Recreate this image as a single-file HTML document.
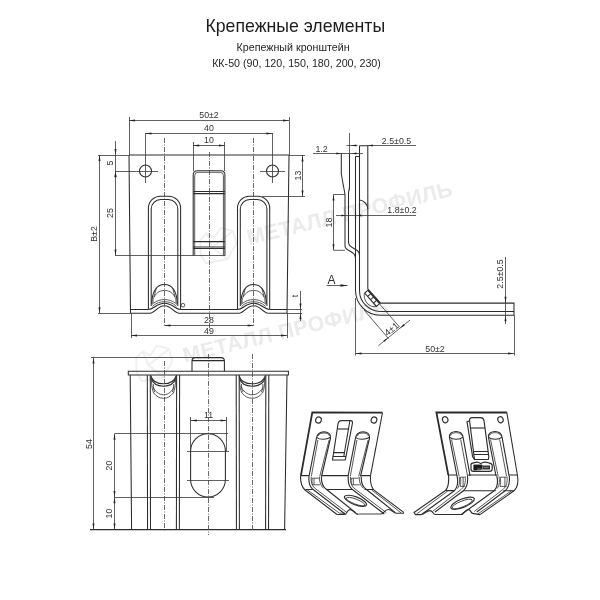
<!DOCTYPE html>
<html><head><meta charset="utf-8">
<style>
html,body{margin:0;padding:0;background:#fff;}
body{width:600px;height:600px;overflow:hidden;font-family:"Liberation Sans",sans-serif;}
svg{display:block;will-change:transform;opacity:0.999;}
text{font-family:"Liberation Sans",sans-serif;}
.o{fill:none;stroke:#2c2c2c;stroke-width:1.05;}
.t{fill:none;stroke:#3c3c3c;stroke-width:0.85;}
.d{fill:none;stroke:#383838;stroke-width:0.8;}
.c{fill:none;stroke:#444;stroke-width:0.8;stroke-dasharray:5 1.5 1 1.5;}
.a{fill:#222;stroke:none;}
.k{fill:none;stroke:#2e2e2e;stroke-width:1.15;stroke-linejoin:round;}
.dt{font-size:8.8px;fill:#333;text-anchor:middle;}
.wm{font-size:21.3px;font-weight:bold;fill:#ebebeb;letter-spacing:0.45px;}
</style></head><body>
<svg width="600" height="600" viewBox="0 0 600 600">
<rect width="600" height="600" fill="#fff"/>
<g transform="translate(248.7 244.8) rotate(-13.5)"><text class="wm" x="0" y="0">МЕТАЛЛ ПРОФИЛЬ</text><path d="M-49 -2 L-46 -16 L-38 -21 L-32 -15 L-23 -23 L-12 -17 L-12 -4 L-24 9 L-46 8 Z M-38 -21 L-36 -6 L-24 9 M-36 -6 L-12 -17" fill="none" stroke="#efefef" stroke-width="1.8" stroke-linejoin="round"/></g>
<g transform="translate(184.7 362.7) rotate(-13.5)"><text class="wm" x="0" y="0">МЕТАЛЛ ПРОФИЛЬ</text><path d="M-49 -2 L-46 -16 L-38 -21 L-32 -15 L-23 -23 L-12 -17 L-12 -4 L-24 9 L-46 8 Z M-38 -21 L-36 -6 L-24 9 M-36 -6 L-12 -17" fill="none" stroke="#efefef" stroke-width="1.8" stroke-linejoin="round"/></g>
<!--TITLE-->
<text x="295.3" y="32.3" font-size="17.7" fill="#1c1c1c" text-anchor="middle">Крепежные элементы</text>
<text x="293.1" y="50.8" font-size="10.7" fill="#262626" text-anchor="middle">Крепежный кронштейн</text>
<text x="296.5" y="66.6" font-size="10.7" fill="#262626" text-anchor="middle">КК-50 (90, 120, 150, 180, 200, 230)</text>
<path class="o" d="M129 155 H289 M129 155 L130.5 313.2 M289 155 L287 313.2"/>
<path class="o" d="M130.5 309.5 H148.5 M180.5 309.5 H237.6 M269.6 309.5 H287"/>
<path class="o" d="M130.5 313.2 H150.0 M179.0 313.2 H239.1 M268.1 313.2 H287"/>
<path class="o" d="M148.5 309.5 C153.5 309.5 156.5 303.3 164.5 303.3 C172.5 303.3 175.5 309.5 180.5 309.5"/>
<path class="o" d="M150.0 313.2 C155.0 313.2 157.5 305.8 164.5 305.8 C171.5 305.8 174.0 313.2 179.0 313.2"/>
<path class="t" d="M152.0 304.5 C156.5 300.5 160.5 299.6 164.5 299.6 C168.5 299.6 172.5 300.5 177.0 304.5"/>
<path class="t" d="M152.5 306.5 C156.5 302.6 160.5 301.8 164.5 301.8 C168.5 301.8 172.5 302.6 176.5 306.5"/>
<path class="o" d="M151.8 304 C151.8 292 156.5 284.5 164.5 284.5 C172.5 284.5 177.2 292 177.2 304"/>
<path class="t" d="M154.0 297 C157.5 291.5 160.5 290.5 164.5 290.5 C168.5 290.5 171.5 291.5 175.0 297"/>
<path class="t" d="M154.0 297 L156.3 288 M175.0 297 L172.7 288"/>
<path class="t" d="M153.0 303 C153.0 299 153.5 298 154.0 297 M176.0 303 C176.0 299 175.5 298 175.0 297"/>
<path class="o" d="M148.4 309.5 V208.2 A12 12 0 0 1 160.4 196.2 H168.6 A12 12 0 0 1 180.6 208.2 V309.5"/>
<path class="o" d="M151.2 306 V209 A9.5 9.5 0 0 1 160.7 199.5 H168.3 A9.5 9.5 0 0 1 177.8 209 V306"/>
<line class="c" x1="164.5" y1="138" x2="164.5" y2="326"/>
<path class="o" d="M237.6 309.5 C242.6 309.5 245.6 303.3 253.6 303.3 C261.6 303.3 264.6 309.5 269.6 309.5"/>
<path class="o" d="M239.1 313.2 C244.1 313.2 246.6 305.8 253.6 305.8 C260.6 305.8 263.1 313.2 268.1 313.2"/>
<path class="t" d="M241.1 304.5 C245.6 300.5 249.6 299.6 253.6 299.6 C257.6 299.6 261.6 300.5 266.1 304.5"/>
<path class="t" d="M241.6 306.5 C245.6 302.6 249.6 301.8 253.6 301.8 C257.6 301.8 261.6 302.6 265.6 306.5"/>
<path class="o" d="M240.9 304 C240.9 292 245.6 284.5 253.6 284.5 C261.6 284.5 266.3 292 266.3 304"/>
<path class="t" d="M243.1 297 C246.6 291.5 249.6 290.5 253.6 290.5 C257.6 290.5 260.6 291.5 264.1 297"/>
<path class="t" d="M243.1 297 L245.4 288 M264.1 297 L261.8 288"/>
<path class="t" d="M242.1 303 C242.1 299 242.6 298 243.1 297 M265.1 303 C265.1 299 264.6 298 264.1 297"/>
<path class="o" d="M237.5 309.5 V208.2 A12 12 0 0 1 249.5 196.2 H257.7 A12 12 0 0 1 269.7 208.2 V309.5"/>
<path class="o" d="M240.29999999999998 306 V209 A9.5 9.5 0 0 1 249.79999999999998 199.5 H257.4 A9.5 9.5 0 0 1 266.9 209 V306"/>
<line class="c" x1="253.5" y1="138" x2="253.5" y2="326"/>
<circle class="t" cx="183" cy="305.2" r="1.8"/>
<path class="o" d="M193.2 255.5 V175 Q193.2 170.8 197.4 170.8 H220.7 Q224.9 170.8 224.9 175 V255.5"/>
<path class="t" d="M194.7 255.5 V175.5 Q194.7 172.3 197.9 172.3 H220.2 Q223.4 172.3 223.4 175.5 V255.5"/>
<path class="o" d="M193.2 191.4 H224.9 M193.2 193.6 H224.9 M193.2 241.6 H224.9 M193.2 247 H224.9 M193.2 248.4 H224.9"/>
<line class="c" x1="209.5" y1="152" x2="209.5" y2="331"/>
<circle class="o" cx="145.5" cy="171" r="6"/>
<line class="d" x1="145.5" y1="133" x2="145.5" y2="183"/>
<circle class="o" cx="272.5" cy="171" r="6"/>
<line class="d" x1="272.5" y1="133" x2="272.5" y2="183"/>
<line class="d" x1="133" y1="171.5" x2="158" y2="171.5"/>
<line class="d" x1="260" y1="171.5" x2="285" y2="171.5"/>
<line class="d" x1="129.5" y1="117" x2="129.5" y2="155"/>
<line class="d" x1="289.5" y1="117" x2="289.5" y2="155"/>
<line class="d" x1="129" y1="120.5" x2="289" y2="120.5"/>
<polygon class="a" points="129.00,120.50 135.00,119.50 135.00,121.50"/>
<polygon class="a" points="289.00,120.50 283.00,121.50 283.00,119.50"/>
<text class="dt" x="209" y="118">50±2</text>
<line class="d" x1="145.5" y1="133.5" x2="272.5" y2="133.5"/>
<polygon class="a" points="145.50,133.50 151.50,132.50 151.50,134.50"/>
<polygon class="a" points="272.50,133.50 266.50,134.50 266.50,132.50"/>
<text class="dt" x="209" y="131">40</text>
<line class="d" x1="193.5" y1="142" x2="193.5" y2="171"/>
<line class="d" x1="224.5" y1="142" x2="224.5" y2="171"/>
<line class="d" x1="193.2" y1="145.5" x2="224.9" y2="145.5"/>
<polygon class="a" points="193.20,145.50 199.20,144.50 199.20,146.50"/>
<polygon class="a" points="224.90,145.50 218.90,146.50 218.90,144.50"/>
<text class="dt" x="209" y="143">10</text>
<line class="d" x1="115.5" y1="141" x2="115.5" y2="255.5"/>
<line class="d" x1="115" y1="155.5" x2="129" y2="155.5"/>
<line class="d" x1="115" y1="171.5" x2="133" y2="171.5"/>
<line class="d" x1="115" y1="255.5" x2="225.2" y2="255.5"/>
<polygon class="a" points="115.50,155.00 114.50,149.00 116.50,149.00"/>
<polygon class="a" points="115.50,171.00 116.50,177.00 114.50,177.00"/>
<polygon class="a" points="115.50,171.30 116.50,177.30 114.50,177.30"/>
<polygon class="a" points="115.50,255.50 114.50,249.50 116.50,249.50"/>
<text class="dt" x="112.5" y="163" transform="rotate(-90 112.5 163)">5</text>
<text class="dt" x="112.5" y="213" transform="rotate(-90 112.5 213)">25</text>
<line class="d" x1="99.5" y1="155" x2="99.5" y2="313.2"/>
<line class="d" x1="98" y1="155.5" x2="115" y2="155.5"/>
<line class="d" x1="98" y1="313.5" x2="130.5" y2="313.5"/>
<polygon class="a" points="99.50,155.00 100.50,161.00 98.50,161.00"/>
<polygon class="a" points="99.50,313.20 98.50,307.20 100.50,307.20"/>
<text class="dt" x="97" y="234" transform="rotate(-90 97 234)">B±2</text>
<line class="d" x1="289" y1="155.5" x2="305" y2="155.5"/>
<line class="d" x1="262" y1="196.5" x2="305" y2="196.5"/>
<line class="d" x1="302.5" y1="155" x2="302.5" y2="196.2"/>
<polygon class="a" points="302.50,155.50 303.50,161.50 301.50,161.50"/>
<polygon class="a" points="302.50,196.50 301.50,190.50 303.50,190.50"/>
<text class="dt" x="300.5" y="175.5" transform="rotate(-90 300.5 175.5)">13</text>
<line class="d" x1="164.5" y1="325.5" x2="253.6" y2="325.5"/>
<polygon class="a" points="164.50,325.50 170.50,324.50 170.50,326.50"/>
<polygon class="a" points="253.60,325.50 247.60,326.50 247.60,324.50"/>
<text class="dt" x="209" y="323">28</text>
<line class="d" x1="131.5" y1="313.2" x2="131.5" y2="338"/>
<line class="d" x1="287.5" y1="313.2" x2="287.5" y2="338"/>
<line class="d" x1="131" y1="335.5" x2="287" y2="335.5"/>
<polygon class="a" points="131.00,335.50 137.00,334.50 137.00,336.50"/>
<polygon class="a" points="287.00,335.50 281.00,336.50 281.00,334.50"/>
<text class="dt" x="209" y="333.5">49</text>
<line class="d" x1="287" y1="309.5" x2="302" y2="309.5"/>
<line class="d" x1="287" y1="313.5" x2="302" y2="313.5"/>
<line class="d" x1="300.5" y1="291" x2="300.5" y2="321"/>
<polygon class="a" points="300.50,309.50 299.50,303.50 301.50,303.50"/>
<polygon class="a" points="300.50,313.20 301.50,319.20 299.50,319.20"/>
<text class="dt" x="298" y="296" transform="rotate(-90 298 296)">t</text>
<line class="d" x1="349.5" y1="133" x2="349.5" y2="190"/>
<path class="o" d="M359.5 145.8 H367.8 V288.8 L380.6 303.1 H514 V315.3 H380.3"/>
<path class="o" d="M355.5 156.5 V290.3 A25 25 0 0 0 380.3 315.3"/>
<path class="o" d="M359.5 145.8 V290.4 A21 21 0 0 0 380.3 311.4 H514"/>
<path class="o" d="M355.5 156.5 H359.5"/>
<path class="o" d="M341.3 153.5 V174 L345 194.5 V246 C345 252 355.5 250 355.5 258"/>
<path class="o" d="M349.5 153.5 V186 C349.5 190 348.5 190 348.5 194 V242 C348.5 250 359.5 247 359.5 255"/>
<path class="d" d="M333.5 194.5 H345 M333.5 250.3 H345"/>
<path class="o" d="M359.5 200 C364 200.5 367.5 204 367.8 208.8"/>
<polygon class="o" points="367.90,290.20 379.67,303.55 376.45,306.40 364.67,293.04"/>
<line x1="367.90" y1="290.20" x2="379.67" y2="303.55" stroke="#333" stroke-width="1.3"/>
<line class="o" x1="370.84" y1="293.54" x2="367.62" y2="296.38"/>
<line class="o" x1="373.79" y1="296.88" x2="370.56" y2="299.72"/>
<line class="o" x1="376.73" y1="300.21" x2="373.50" y2="303.06"/>
<path class="t" d="M364.4 293.2 C362.8 300 369 308.5 376.8 306.4"/>
<line class="d" x1="364" y1="310" x2="388.6" y2="338.6"/>
<line class="d" x1="379.6" y1="304" x2="399.6" y2="327.1"/>
<line class="d" x1="378.5" y1="345.6" x2="410" y2="320"/>
<polygon class="a" points="388.20,337.70 384.49,341.86 383.36,340.46"/>
<polygon class="a" points="399.90,328.20 403.61,324.04 404.74,325.44"/>
<text class="dt" x="393.6" y="331.6" transform="rotate(-39 393.6 331.6)" style="font-size:9.3px">4±1</text>
<line class="d" x1="346.5" y1="145.5" x2="357.5" y2="145.5"/>
<line class="d" x1="367.8" y1="145.5" x2="416" y2="145.5"/>
<polygon class="a" points="351.30,145.50 356.30,144.60 356.30,146.40"/>
<polygon class="a" points="367.80,145.50 372.80,144.60 372.80,146.40"/>
<text class="dt" x="396.5" y="143.5">2.5±0.5</text>
<line class="d" x1="313" y1="153.5" x2="363" y2="153.5"/>
<polygon class="a" points="341.30,153.50 336.30,154.40 336.30,152.60"/>
<polygon class="a" points="351.50,153.50 356.50,152.60 356.50,154.40"/>
<text class="dt" x="321.5" y="151.5">1.2</text>
<line class="d" x1="336" y1="215.5" x2="416" y2="215.5"/>
<polygon class="a" points="345.30,215.50 341.50,216.50 341.50,214.50"/>
<polygon class="a" points="357.60,215.50 361.40,214.50 361.40,216.50"/>
<text class="dt" x="402" y="213">1.8±0.2</text>
<line class="d" x1="333.5" y1="194.5" x2="333.5" y2="250.3"/>
<polygon class="a" points="333.50,194.50 334.50,200.50 332.50,200.50"/>
<polygon class="a" points="333.50,250.30 332.50,244.30 334.50,244.30"/>
<text class="dt" x="331.5" y="222.5" transform="rotate(-90 331.5 222.5)">18</text>
<line class="d" x1="326.5" y1="285.5" x2="347.5" y2="285.5"/>
<polygon class="a" points="347.50,285.50 340.50,286.80 340.50,284.20"/>
<text class="dt" x="331.5" y="283.5" style="font-size:12px">A</text>
<line class="d" x1="505.5" y1="257" x2="505.5" y2="324"/>
<polygon class="a" points="505.50,302.80 504.50,296.80 506.50,296.80"/>
<polygon class="a" points="505.50,315.30 506.50,321.30 504.50,321.30"/>
<text class="dt" x="502.5" y="274" transform="rotate(-90 502.5 274)">2.5±0.5</text>
<line class="d" x1="355.5" y1="298" x2="355.5" y2="355.5"/>
<line class="d" x1="514.5" y1="315.3" x2="514.5" y2="355.5"/>
<line class="d" x1="355.5" y1="353.5" x2="514" y2="353.5"/>
<polygon class="a" points="355.50,353.50 361.50,352.50 361.50,354.50"/>
<polygon class="a" points="514.00,353.50 508.00,354.50 508.00,352.50"/>
<text class="dt" x="435" y="351.5">50±2</text>
<path class="o" d="M128.3 371.2 H288.4 V375 H128.3 Z"/>
<path class="o" d="M192 371.2 V361 Q192 357.6 195.4 357.6 H221 Q224.4 357.6 224.4 361 V371.2 M192 360.6 H224.4"/>
<path class="o" d="M130.2 375 L131.6 529.6 M287 375 L284.6 529.6"/>
<line class="o" x1="90" y1="529.6" x2="286" y2="529.6"/>
<line class="o" x1="147.3" y1="375" x2="147.555" y2="529.6"/>
<line class="o" x1="150.3" y1="375" x2="150.51000000000002" y2="529.6"/>
<line class="o" x1="176.60000000000002" y1="375" x2="176.4155" y2="529.6"/>
<line class="o" x1="179.60000000000002" y1="375" x2="179.37050000000002" y2="529.6"/>
<line class="c" x1="164.5" y1="361" x2="164.5" y2="531"/>
<path class="o" d="M150.70000000000002 375.5 C152.70000000000002 382 158.5 383.8 163.5 383.8 C168.5 383.8 174.3 382 176.3 375.5"/>
<path class="o" d="M151.00000000000003 378 C153.20000000000002 384.5 158.5 386.2 163.5 386.2 C168.5 386.2 173.8 384.5 176.0 378"/>
<path class="t" d="M151.50000000000003 380 C151.50000000000003 386 152.20000000000002 390 153.70000000000002 393 C156.70000000000002 396.5 159.5 398.3 163.5 398.3 C167.5 398.3 170.3 396.5 173.3 393 C174.8 390 175.5 386 175.5 380"/>
<path class="t" d="M152.9 386.5 C154.70000000000002 391 158.5 394.8 163.5 394.8 C168.5 394.8 172.3 391 174.10000000000002 386.5"/>
<path class="t" d="M153.3 384 C153.3 388 153.70000000000002 390 154.9 392.2 M173.70000000000002 384 C173.70000000000002 388 173.3 390 172.10000000000002 392.2"/>
<line class="o" x1="236.2" y1="375" x2="236.4445" y2="529.6"/>
<line class="o" x1="239.2" y1="375" x2="239.3995" y2="529.6"/>
<line class="o" x1="265.8" y1="375" x2="265.6005" y2="529.6"/>
<line class="o" x1="268.8" y1="375" x2="268.5555" y2="529.6"/>
<line class="c" x1="252.5" y1="354" x2="252.5" y2="531"/>
<path class="o" d="M238.9 375.5 C240.9 382 247.2 383.8 252.2 383.8 C257.2 383.8 263.5 382 265.5 375.5"/>
<path class="o" d="M239.20000000000002 378 C241.4 384.5 247.2 386.2 252.2 386.2 C257.2 386.2 263.0 384.5 265.2 378"/>
<path class="t" d="M239.70000000000002 380 C239.70000000000002 386 240.4 390 241.9 393 C244.9 396.5 248.2 398.3 252.2 398.3 C256.2 398.3 259.5 396.5 262.5 393 C264.0 390 264.7 386 264.7 380"/>
<path class="t" d="M241.1 386.5 C242.9 391 247.2 394.8 252.2 394.8 C257.2 394.8 261.5 391 263.3 386.5"/>
<path class="t" d="M241.5 384 C241.5 388 241.9 390 243.1 392.2 M262.9 384 C262.9 388 262.5 390 261.3 392.2"/>
<line class="c" x1="208.5" y1="354" x2="208.5" y2="535"/>
<path class="o" d="M190.6 451.2 A17.4 17.4 0 0 1 225.4 451.2 V479.6 A17.4 17.4 0 0 1 190.6 479.6 Z"/>
<line class="d" x1="187" y1="451.5" x2="229" y2="451.5"/>
<line class="d" x1="187" y1="480.5" x2="229" y2="480.5"/>
<line class="d" x1="190.5" y1="417" x2="190.5" y2="451"/>
<line class="d" x1="226.5" y1="417" x2="226.5" y2="451"/>
<line class="d" x1="190.8" y1="420.5" x2="226.6" y2="420.5"/>
<polygon class="a" points="190.80,420.50 196.80,419.50 196.80,421.50"/>
<polygon class="a" points="226.60,420.50 220.60,421.50 220.60,419.50"/>
<text class="dt" x="208.6" y="418">11</text>
<line class="d" x1="114.5" y1="433.8" x2="114.5" y2="529.6"/>
<line class="d" x1="114.5" y1="433.5" x2="228" y2="433.5"/>
<line class="d" x1="114.5" y1="497.5" x2="214" y2="497.5"/>
<polygon class="a" points="114.50,433.80 115.50,439.80 113.50,439.80"/>
<polygon class="a" points="114.50,497.00 113.50,491.00 115.50,491.00"/>
<polygon class="a" points="114.50,497.20 115.50,503.20 113.50,503.20"/>
<polygon class="a" points="114.50,529.60 113.50,523.60 115.50,523.60"/>
<text class="dt" x="112" y="465.5" transform="rotate(-90 112 465.5)">20</text>
<text class="dt" x="112" y="513.5" transform="rotate(-90 112 513.5)">10</text>
<line class="d" x1="93.5" y1="357.6" x2="93.5" y2="529.6"/>
<line class="d" x1="91" y1="357.5" x2="195" y2="357.5"/>
<polygon class="a" points="93.50,357.60 94.50,363.60 92.50,363.60"/>
<polygon class="a" points="93.50,529.60 92.50,523.60 94.50,523.60"/>
<text class="dt" x="91.5" y="444" transform="rotate(-90 91.5 444)">54</text>
<path d="M300.9 475.6 L312.3 412.4 L382.5 412.6" fill="none" stroke="#2b2b2b" stroke-width="1.8" stroke-linejoin="miter"/>
<path class="o" d="M382.5 412.6 L370.5 475.7"/>
<path class="o" d="M300.6 475.6 H309 M321.5 475.6 H348.3 M361.3 475.6 H370.5"/>
<path class="o" d="M305.5 489.5 H312.5 M326 489.5 H353 M364.5 489.5 H373.7"/>
<path class="k" d="M300.6 475.6 C300.3 481 301.5 486.5 305 490 L337 514.5"/>
<path class="t" d="M307 489.6 L339.5 513.2"/>
<path class="o" d="M370.5 475.7 C370.2 481 371 486.5 373.7 489.8 L404 512.6"/>
<path class="t" d="M371.5 489.8 L401 512.8"/>
<ellipse class="k" cx="318.5" cy="420" rx="2.8" ry="3.1" transform="rotate(20 318.5 420)"/>
<ellipse class="k" cx="374" cy="420" rx="2.8" ry="3.1" transform="rotate(20 374 420)"/>
<path class="k" d="M309.0 476.5 L316.5 438 C317.3 433.6 320.5 431.8 324.1 431.8 C328.0 431.8 331.1 433.8 330.5 438 L321.5 476.5"/>
<path class="t" d="M311.3 476.5 L317.9 440 M319.7 476.5 L329.1 440"/>
<path class="o" d="M316.8 437.6 C319.5 439.8 326.5 440 330.5 437.2"/>
<path class="t" d="M317.9 436 C319.0 433.6 321.5 433 324.1 433 C326.5 433 328.9 433.8 329.5 436"/>
<path class="k" d="M348.0 476.5 L355.5 438 C356.3 433.6 359.5 431.8 363.1 431.8 C367.0 431.8 370.1 433.8 369.5 438 L360.5 476.5"/>
<path class="t" d="M350.3 476.5 L356.9 440 M358.7 476.5 L368.1 440"/>
<path class="o" d="M355.8 437.6 C358.5 439.8 365.5 440 369.5 437.2"/>
<path class="t" d="M356.9 436 C358.0 433.6 360.5 433 363.1 433 C365.5 433 367.9 433.8 368.5 436"/>
<path class="k" d="M309 476.5 C308.5 482 310 486.5 312.5 489 L345 514"/>
<path class="k" d="M321.5 476.5 C321.2 481 322.3 486 326.0 489 L355.5 512.6"/>
<path class="t" d="M311.2 477 C310.8 482 312 485.5 314.5 488 L347 512.6"/>
<path class="t" d="M319.5 477 C319.2 481 320.3 485 323.5 488.4"/>
<path class="t" d="M312.2 478.2 H318.9 M312.6 484.8 H319.9 M314 478.2 V484.8 M312.2 478.2 C311.6 481 312 483 312.6 484.8"/>
<path class="k" d="M348.3 476.5 C347.8 482 349.3 486.5 351.8 489 L384.3 514"/>
<path class="k" d="M361.3 476.5 C361.0 481 362.1 486 365.8 489 L395.3 512.6"/>
<path class="t" d="M350.5 477 C350.1 482 351.3 485.5 353.8 488 L386.3 512.6"/>
<path class="t" d="M359.3 477 C359.0 481 360.1 485 363.3 488.4"/>
<path class="t" d="M351.5 478.2 H358.7 M351.90000000000003 484.8 H359.7 M353.3 478.2 V484.8 M351.5 478.2 C350.90000000000003 481 351.3 483 351.90000000000003 484.8"/>
<path class="k" d="M337 514.5 H344.5 C347 514.5 347 509.6 350 509.6 C353.5 509.6 355 514.4 358.5 514.4"/>
<path fill="none" stroke="#8a8a8a" stroke-width="1.6" d="M358.5 514 H381"/>
<path class="o" d="M381 514 C384 514 384.5 509.4 388.3 509.4 C392 509.4 393 513.2 396.5 513.2 H404"/>
<path class="t" d="M339.5 513.2 H345"/>
<ellipse class="k" cx="355.5" cy="500.8" rx="11.8" ry="3.9" transform="rotate(21 355.5 500.8)"/>
<ellipse class="t" cx="355.6" cy="501.6" rx="10" ry="2.5" transform="rotate(21 355.6 501.6)"/>
<path class="k" d="M332.5 460 L338 424 C338.4 421.4 339.5 420.6 341.5 420.6 H350.5 C352.2 420.6 352.8 421.6 352.4 423.5 L345.3 460 Z"/>
<path class="o" d="M349.8 421 L343.8 456.4"/>
<path class="k" d="M337.4 429 H349.2"/>
<path class="o" d="M333.6 452.6 H344.4 M332.9 456.4 H345.9"/>
<path d="M448.3 475 L436.4 412.4 L506.8 412.5" fill="none" stroke="#2b2b2b" stroke-width="1.8" stroke-linejoin="miter"/>
<path class="o" d="M506.8 412.4 L517.4 475"/>
<path class="o" d="M448.5 475 H457 M467.5 475 H496.8 M509.3 475 H517.4"/>
<path class="o" d="M445.8 490.6 H454 M463 490.8 H495.8 M503.3 490.8 H514"/>
<path class="k" d="M448.5 475 C449 481 448.6 487 445.5 490.5 L414 512.5 L415.5 514.6 H421.5"/>
<path class="t" d="M447.5 491.2 L416.5 514"/>
<path class="o" d="M517.4 475 C518.4 481 518.2 487 514 490.8 L480 514.6"/>
<path class="t" d="M511.5 490.8 L477.5 514.2"/>
<ellipse class="k" cx="445.2" cy="419.7" rx="2.7" ry="3.1" transform="rotate(-20 445.2 419.7)"/>
<ellipse class="k" cx="500.5" cy="419.7" rx="2.7" ry="3.1" transform="rotate(-20 500.5 419.7)"/>
<path class="k" d="M457.0 476 L449.5 437.5 C448.9 433.6 452.1 431.5 456.0 431.5 C459.9 431.5 462.5 433.6 463.1 437.5 L470.1 476"/>
<path class="t" d="M459.1 476 L451.5 439.5 M467.5 476 L460.7 439.5"/>
<path class="o" d="M449.7 437.4 C452.5 440 460.0 440 462.9 437.2"/>
<path class="t" d="M450.5 435.6 C451.3 433.4 453.5 432.7 456.0 432.7 C459.0 432.7 461.0 433.6 461.9 435.6"/>
<path class="k" d="M496.0 476 L488.5 437.5 C487.9 433.6 491.1 431.5 495.0 431.5 C498.9 431.5 501.5 433.6 502.1 437.5 L509.1 476"/>
<path class="t" d="M498.1 476 L490.5 439.5 M506.5 476 L499.7 439.5"/>
<path class="o" d="M488.7 437.4 C491.5 440 499.0 440 501.9 437.2"/>
<path class="t" d="M489.5 435.6 C490.3 433.4 492.5 432.7 495.0 432.7 C498.0 432.7 500.0 433.6 500.9 435.6"/>
<path class="k" d="M457 476 C458.2 481 458 487 454 491 L421.5 514.5"/>
<path class="k" d="M467.5 476 C468.0 481 467.5 487.5 463.0 491 L435.0 512"/>
<path class="t" d="M465.3 476.5 C465.7 482 465.1 486 461.0 489.6 L432.5 511.4"/>
<path class="t" d="M459.2 476.5 C460 481 459.8 485 457.5 488.5"/>
<path class="t" d="M460.4 477.2 H464.9 M460.2 486.4 H464.9 M463.1 477.2 V486.4 M460.4 477.2 C461 481 460.8 484 460.2 486.4"/>
<path class="k" d="M496.8 476 C498.0 481 497.8 487 493.8 491 L461.3 514.5"/>
<path class="k" d="M509.3 476 C509.8 481 509.3 487.5 504.8 491 L476.8 512"/>
<path class="t" d="M507.1 476.5 C507.5 482 506.90000000000003 486 502.8 489.6 L474.3 511.4"/>
<path class="t" d="M499.0 476.5 C499.8 481 499.6 485 497.3 488.5"/>
<path class="t" d="M500.2 477.2 H506.7 M500.0 486.4 H506.7 M504.90000000000003 477.2 V486.4 M500.2 477.2 C500.8 481 500.6 484 500.0 486.4"/>
<path class="k" d="M421.5 514.5 C424.5 514.5 426.5 510.6 430 510.6 C433 510.6 432.5 514.5 435.5 514.5 H462 L464.3 512.2 C466 510 467.5 509.4 469 509.6 C471 510 470.5 513.5 473.5 513.6 L480 514.6"/>
<ellipse class="k" cx="462.6" cy="503.2" rx="12.6" ry="4.2" transform="rotate(-22 462.6 503.2)"/>
<ellipse class="t" cx="462.2" cy="504" rx="10.8" ry="2.9" transform="rotate(-22 462.2 504)"/>
<path class="k" d="M474.5 459.5 L469.6 421 C469.3 418.6 470.4 417.6 472.4 417.6 H480.6 C482.8 417.6 483.6 418.6 484 420.6 L488.8 456.6 L488.4 459.5 Z"/>
<path class="k" d="M469.6 421 L467 421.6 L472.6 456.6 L474.5 459.5"/>
<path class="k" d="M470.3 428 H484.8"/>
<path class="o" d="M473.4 451.4 H488 M473.8 454.4 H488.4"/>
<path d="M471 464.8 C471 463 472.5 463 474 462.8 C476 461.8 478.5 461.8 480.8 463.6 C483 461.8 486 461.8 488.5 462.8 C490.5 463 492 463.4 492.2 465.5 L492.2 469 C492.2 470.8 491 471.3 489.5 471.3 H473.5 C472 471.3 471 470.8 471 469 Z" fill="#fff" stroke="#2b2b2b" stroke-width="1.2"/>
<path d="M473.6 464.8 H482 L483 465.6 H490 V469.6 H481.5 L480.5 470.2 H473.6 Z" fill="#333"/>
<path d="M473.6 464.8 H482 V468.6 H477 V470.2 H473.6 Z" fill="#1a1a1a"/>
<path d="M477.5 469 H480.5 M484 467.4 H488.5 M482.6 465.8 V469" stroke="#bbb" stroke-width="0.6" fill="none"/>
</svg>
</body></html>
